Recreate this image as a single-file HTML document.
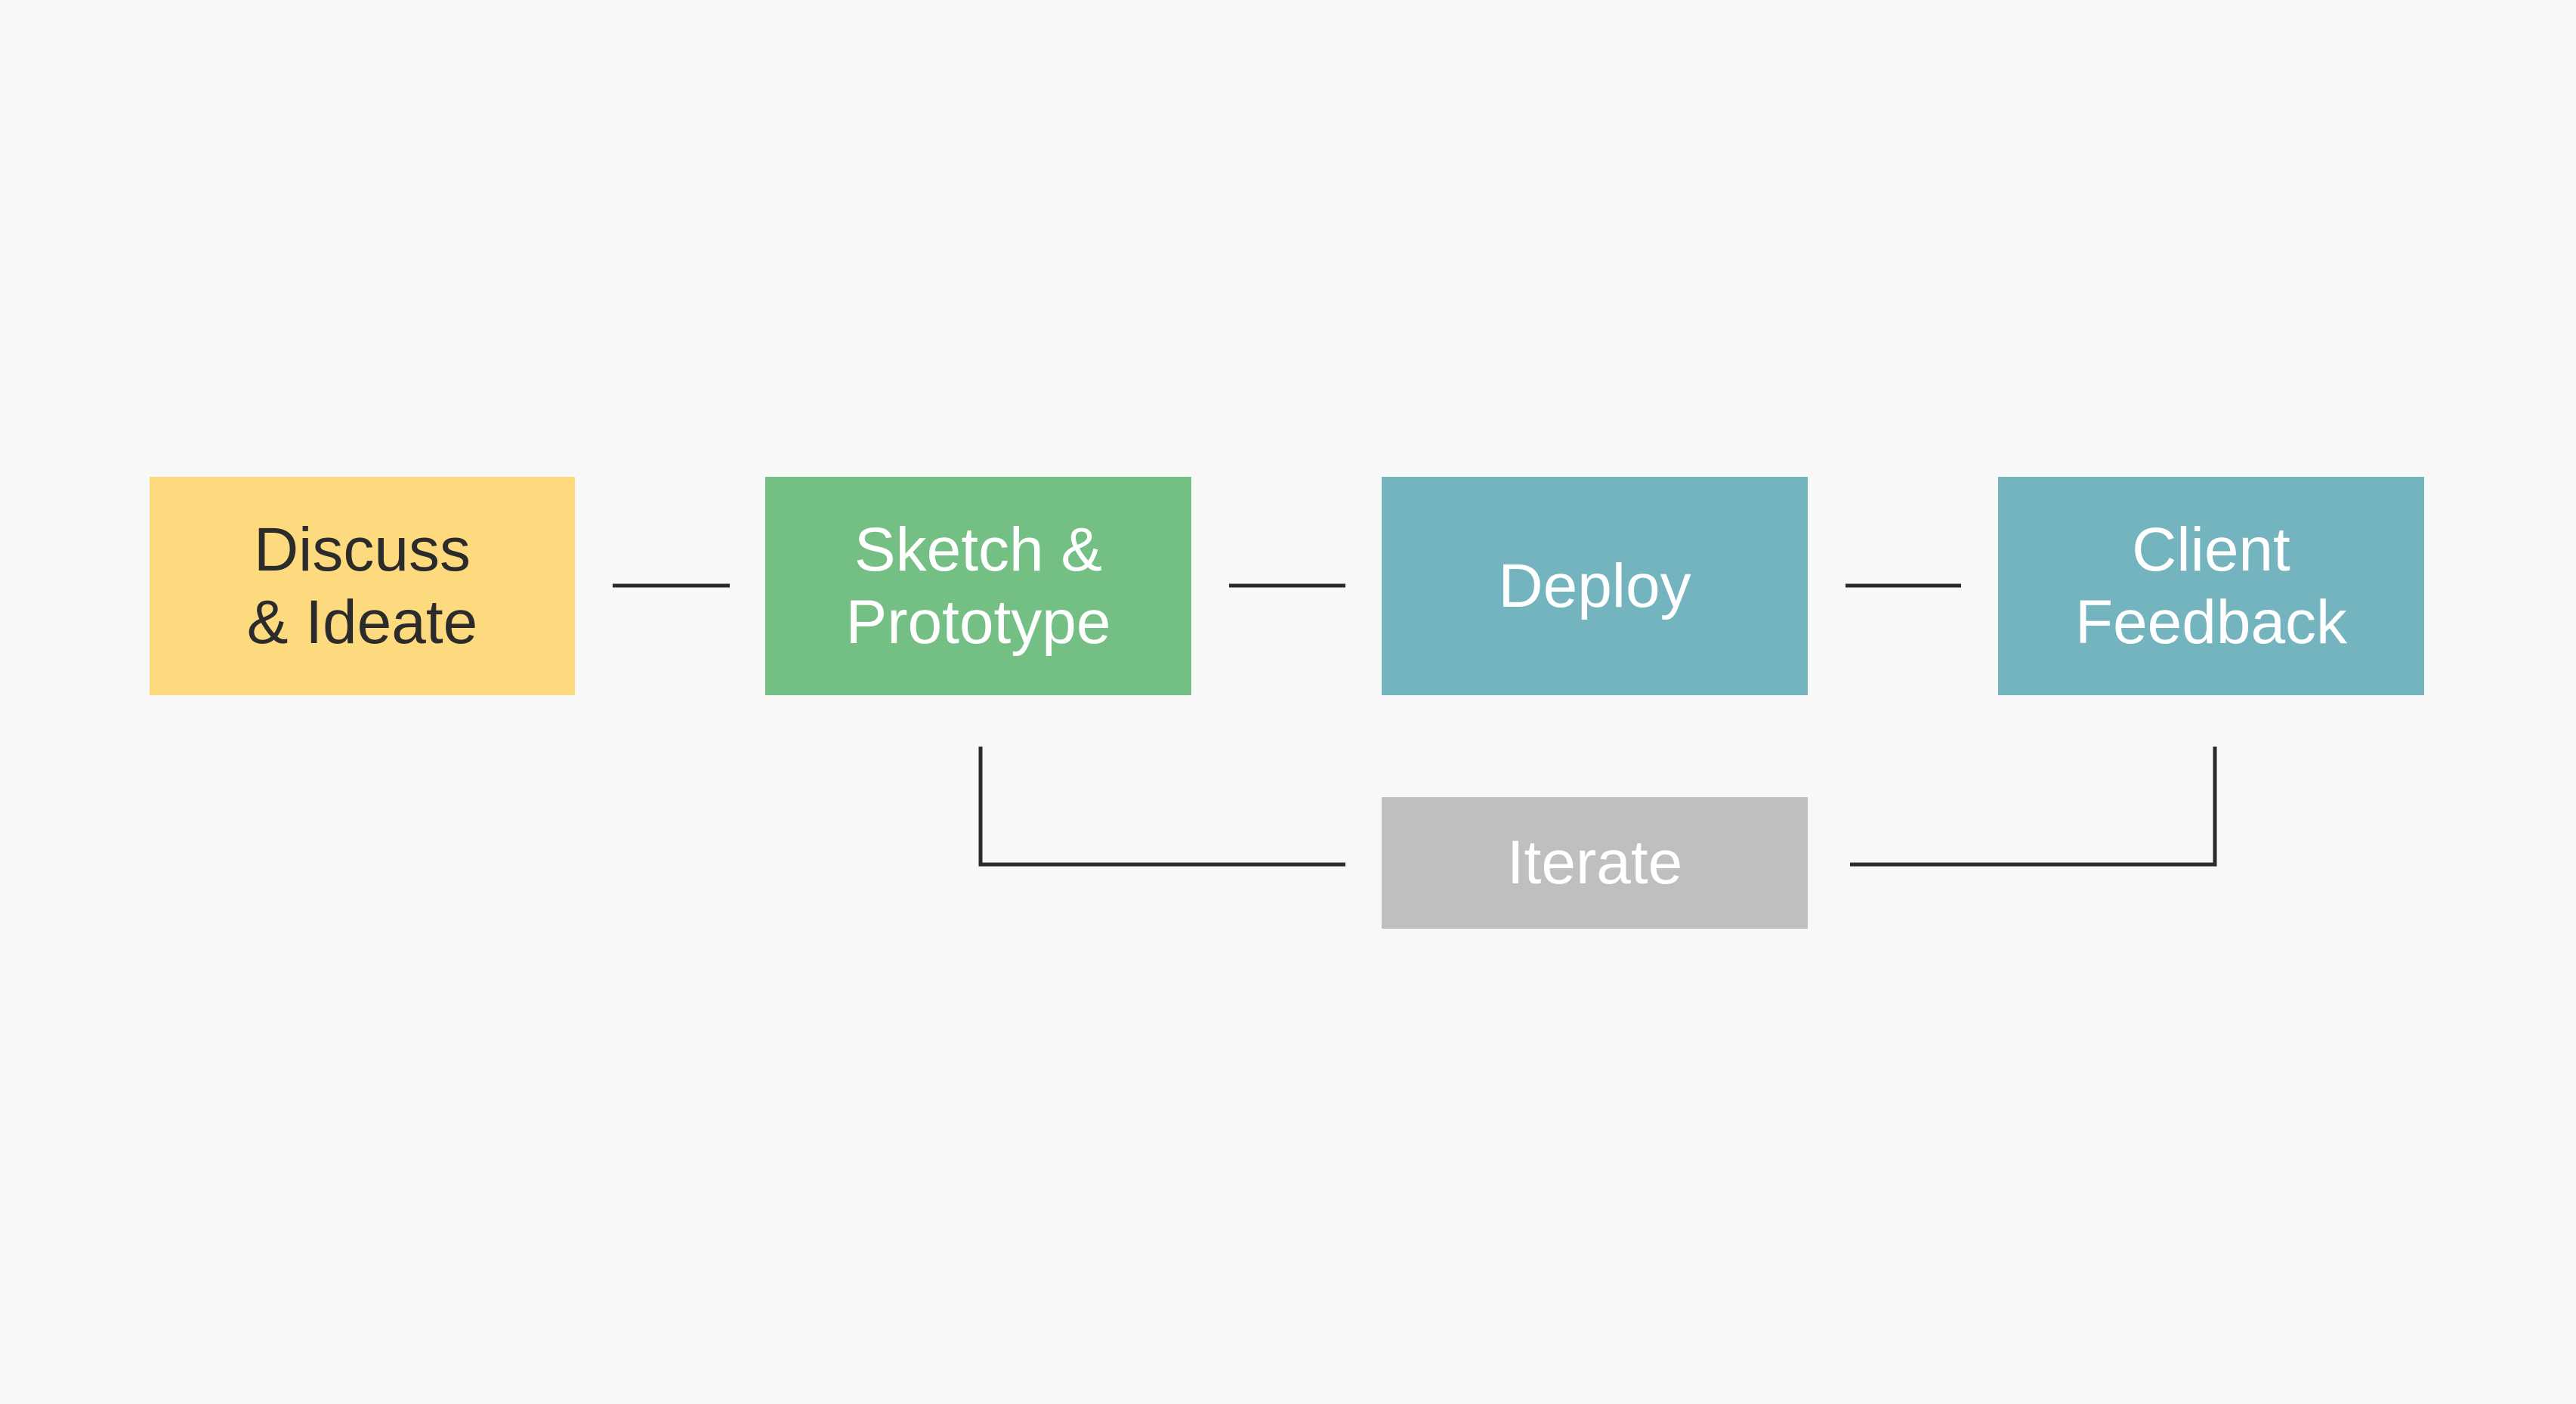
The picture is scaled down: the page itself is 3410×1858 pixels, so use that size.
<!DOCTYPE html>
<html><head><style>
html,body{margin:0;padding:0;background:#f8f8f8;width:3410px;height:1858px;overflow:hidden}
.b{position:absolute;display:flex;align-items:center;justify-content:center;text-align:center;font-family:"Liberation Sans",sans-serif;font-size:82px;line-height:96px;color:#fff}
</style></head><body>
<div class="b" style="left:198px;top:631px;width:563px;height:289px;background:#fdda7d;color:#2b2b2b">Discuss<br>&amp; Ideate</div>
<div class="b" style="left:1013px;top:631px;width:564px;height:289px;background:#74c084">Sketch &amp;<br>Prototype</div>
<div class="b" style="left:1829px;top:631px;width:564px;height:289px;background:#73b4be">Deploy</div>
<div class="b" style="left:2645px;top:631px;width:564px;height:289px;background:#73b4be">Client<br>Feedback</div>
<div class="b" style="left:1829px;top:1055px;width:564px;height:174px;background:#bfbfbf">Iterate</div>
<svg width="3410" height="1858" style="position:absolute;left:0;top:0" fill="none" stroke="#2b2b2b" stroke-width="5">
<line x1="811" y1="775" x2="966" y2="775"/>
<line x1="1627" y1="775" x2="1781" y2="775"/>
<line x1="2443" y1="775" x2="2596" y2="775"/>
<polyline points="1298,988 1298,1144 1781,1144"/>
<polyline points="2449,1144 2932,1144 2932,988"/>
</svg>
</body></html>
